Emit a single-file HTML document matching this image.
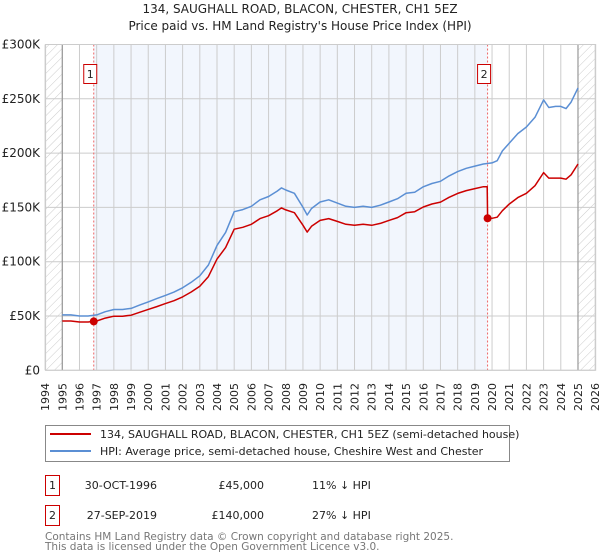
<!DOCTYPE html>
<html><head><meta charset="utf-8"><style>
body{margin:0;background:#fff;width:600px;height:560px;overflow:hidden;font-family:"DejaVu Sans","Liberation Sans",sans-serif}
svg{display:block}
</style></head><body>
<svg id="chart" width="600" height="560" xmlns="http://www.w3.org/2000/svg" font-family="DejaVu Sans, Liberation Sans, sans-serif">
<defs>
<pattern id="hatch" width="6" height="6" patternUnits="userSpaceOnUse" patternTransform="rotate(45)">
<rect width="6" height="6" fill="#fff"/><line x1="0" y1="0" x2="0" y2="6" stroke="#ccc" stroke-width="1"/></pattern>
</defs>
<text x="300" y="13" text-anchor="middle" font-size="12" fill="#222">134, SAUGHALL ROAD, BLACON, CHESTER, CH1 5EZ</text>
<text x="300" y="30" text-anchor="middle" font-size="12" fill="#222">Price paid vs. HM Land Registry's House Price Index (HPI)</text>
<g id="plot"></g>
<g>
<rect x="45.5" y="425.5" width="464" height="36" fill="#fff" stroke="#888"/>
<line x1="50" y1="434" x2="91" y2="434" stroke="#cc0000" stroke-width="2"/>
<text x="100" y="438" font-size="11" fill="#222">134, SAUGHALL ROAD, BLACON, CHESTER, CH1 5EZ (semi-detached house)</text>
<line x1="50" y1="451" x2="91" y2="451" stroke="#5b8fd4" stroke-width="2"/>
<text x="100" y="455" font-size="11" fill="#222">HPI: Average price, semi-detached house, Cheshire West and Chester</text>
</g>
<g font-size="11" fill="#222">
<rect x="45.5" y="475.5" width="14" height="20" fill="#fff" stroke="#cc0000"/>
<text x="52.5" y="489" text-anchor="middle">1</text>
<text x="157" y="489" text-anchor="end">30-OCT-1996</text>
<text x="264" y="489" text-anchor="end">£45,000</text>
<text x="312" y="489">11% ↓ HPI</text>
<rect x="45.5" y="505.5" width="14" height="20" fill="#fff" stroke="#cc0000"/>
<text x="52.5" y="519" text-anchor="middle">2</text>
<text x="157" y="519" text-anchor="end">27-SEP-2019</text>
<text x="264" y="519" text-anchor="end">£140,000</text>
<text x="312" y="519">27% ↓ HPI</text>
</g>
<text x="45" y="540" font-size="10.5" fill="#777">Contains HM Land Registry data © Crown copyright and database right 2025.</text>
<text x="45" y="550" font-size="10.5" fill="#777">This data is licensed under the Open Government Licence v3.0.</text>
</svg>
<script>
const hpiYears=[1995,1995.5,1996,1996.5,1997,1997.5,1998,1998.5,1999,1999.5,2000,2000.5,2001,2001.5,2002,2002.5,2003,2003.5,2004,2004.5,2005,2005.5,2006,2006.5,2007,2007.5,2007.75,2008,2008.5,2009,2009.25,2009.5,2010,2010.5,2011,2011.5,2012,2012.5,2013,2013.5,2014,2014.5,2015,2015.5,2016,2016.5,2017,2017.5,2018,2018.5,2019,2019.5,2020,2020.3,2020.6,2021,2021.5,2022,2022.5,2023,2023.3,2023.7,2024,2024.3,2024.6,2025];
const hpiValues=[51,51,50,50,51,54,56,56,57,60,63,66,69,72,76,81,87,97,115,127,146,148,151,157,160,165,168,166,163,150,143,149,155,157,154,151,150,151,150,152,155,158,163,164,169,172,174,179,183,186,188,190,191,193,202,209,218,224,233,249,242,243,243,241,247,260];
const priceYears=[1995,1995.5,1996,1996.5,1996.83,1997,1997.5,1998,1998.5,1999,1999.5,2000,2000.5,2001,2001.5,2002,2002.5,2003,2003.5,2004,2004.5,2005,2005.5,2006,2006.5,2007,2007.5,2007.75,2008,2008.5,2009,2009.25,2009.5,2010,2010.5,2011,2011.5,2012,2012.5,2013,2013.5,2014,2014.5,2015,2015.5,2016,2016.5,2017,2017.5,2018,2018.5,2019,2019.5,2019.72,2019.74,2020,2020.3,2020.6,2021,2021.5,2022,2022.5,2023,2023.3,2023.7,2024,2024.3,2024.6,2025];
const priceValues=[45.4,45.4,44.5,44.5,45,45.4,48.1,49.8,49.8,50.7,53.4,56.1,58.7,61.4,64.1,67.6,72.1,77.4,86.3,102.4,113,129.9,131.7,134.4,139.7,142.4,146.9,149.5,147.7,145.1,133.5,127.3,132.6,138,139.7,137.1,134.4,133.5,134.4,133.5,135.3,138,140.6,145.1,146,150.4,153.1,154.9,159.3,162.9,165.5,167.3,169.1,169,140,140,141,147,153,159,163,170,182,177,177,177,176,180,190];
const saleYears=[1996.83,2019.74];
const saleValues=[45,140];
const saleLabels=["1","2"];
const yTicks=[0,50,100,150,200,250,300];
const yTickLabels=["£0","£50K","£100K","£150K","£200K","£250K","£300K"];
const xTicks=[1994,1995,1996,1997,1998,1999,2000,2001,2002,2003,2004,2005,2006,2007,2008,2009,2010,2011,2012,2013,2014,2015,2016,2017,2018,2019,2020,2021,2022,2023,2024,2025,2026];

const X0=45.1,PX=17.19,Y0=370.3,PY=54.3/50;
const xs=y=>X0+(y-1994)*PX;
const ys=v=>Y0-v*PY;
const NS="http://www.w3.org/2000/svg";
const g=document.getElementById('plot');
function mk(t,a){const e=document.createElementNS(NS,t);for(const k in a)e.setAttribute(k,a[k]);g.appendChild(e);return e;}

let e;
e=mk('rect',{x:xs(1994),y:ys(300),width:xs(1995)-xs(1994),height:ys(0)-ys(300),fill:'url(#hatch)'});


e=mk('rect',{x:xs(2025),y:ys(300),width:xs(2026)-xs(2025),height:ys(0)-ys(300),fill:'url(#hatch)'});


e=mk('rect',{x:xs(saleYears[0]),y:ys(300),width:xs(saleYears[1])-xs(saleYears[0]),height:ys(0)-ys(300),fill:'#f2f6fd'});



xTicks.forEach(t=>{
  e=mk('line',{x1:xs(t),x2:xs(t),y1:ys(300),y2:ys(0),stroke:'#ccc','stroke-width':1});
  
  
  e=mk('text',{x:0,y:0,'font-size':11,fill:'#222','text-anchor':'end',transform:`translate(${xs(t)+4},383) rotate(-90)`});
  e.textContent=t;
  
  
});
yTicks.forEach((t,i)=>{
  e=mk('line',{x1:xs(1994),x2:xs(2026),y1:ys(t),y2:ys(t),stroke:'#ccc','stroke-width':1});
  
  
  e=mk('text',{x:40,y:ys(t)+4,'font-size':12,fill:'#222','text-anchor':'end'});
  e.textContent=yTickLabels[i];
  
  
});
[1995,2025].forEach(t=>{
  e=mk('line',{x1:xs(t),x2:xs(t),y1:ys(300),y2:ys(0),stroke:'#999','stroke-width':1.2});
  
  
});
saleYears.forEach((s,i)=>{
  e=mk('line',{x1:xs(s),x2:xs(s),y1:ys(300),y2:ys(0),stroke:'#e66','stroke-width':1,'stroke-dasharray':'2,2'});
  
  
});
const path=(xa,va)=>xa.map((x,i)=>(i?'L':'M')+xs(x).toFixed(1)+','+ys(va[i]).toFixed(1)).join('');
e=mk('path',{d:path(hpiYears,hpiValues),fill:'none',stroke:'#5b8fd4','stroke-width':1.5,'stroke-linejoin':'round'});


e=mk('path',{d:path(priceYears,priceValues),fill:'none',stroke:'#cc0000','stroke-width':1.5,'stroke-linejoin':'round'});


saleYears.forEach((s,i)=>{
  e=mk('circle',{cx:xs(s),cy:ys(saleValues[i]),r:4,fill:'#cc0000'});
  
  
  e=mk('rect',{x:xs(s)-10,y:64.5,width:13,height:19,fill:'#fff',stroke:'#cc0000'});
  
  
  e=mk('text',{x:xs(s)-3.5,y:78,'font-size':11,fill:'#222','text-anchor':'middle'});
  e.textContent=saleLabels[i];
  
  
});
e=mk('rect',{x:xs(1994)+0.5,y:ys(300),width:xs(2026)-xs(1994),height:ys(0)-ys(300),fill:'none',stroke:'#ccc'});


</script>
</body></html>
